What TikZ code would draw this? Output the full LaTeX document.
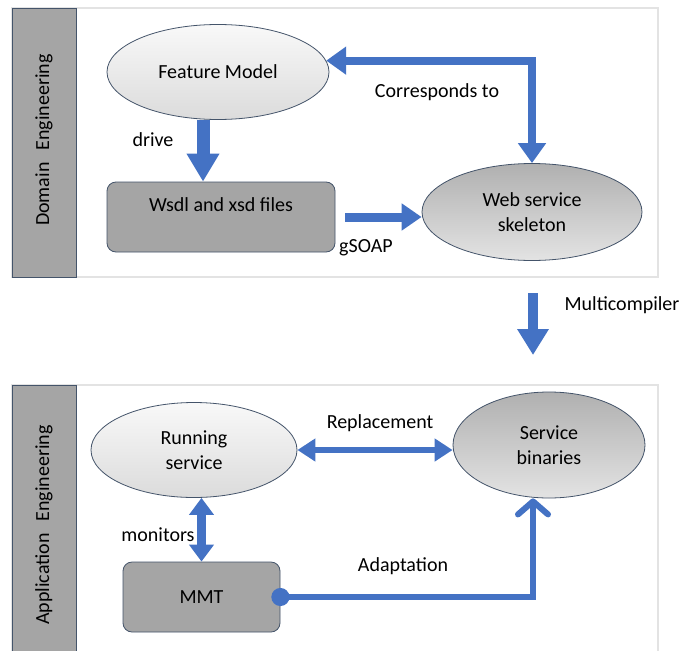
\documentclass[tikz,border=0pt]{standalone}
\usepackage{fontspec}
\setmainfont{Carlito}
\usetikzlibrary{arrows.meta,shapes.geometric}
\definecolor{blu}{HTML}{4472C4}
\definecolor{edge}{HTML}{44546A}
\definecolor{boxgray}{HTML}{A5A5A5}
\begin{document}
\begin{tikzpicture}[x=1pt,y=-1pt,font=\fontsize{20}{25}\selectfont,
  lightell/.style={ellipse,draw=edge,line width=0.8pt,top color=gray!5,bottom color=gray!28,align=center,inner sep=0pt},
  darkell/.style={ellipse,draw=edge,line width=0.8pt,top color=gray!62,bottom color=gray!22,align=center,inner sep=0pt},
  boxnode/.style={rectangle,rounded corners=9pt,draw=edge,line width=0.8pt,fill=boxgray},
  strip/.style={rectangle,draw=edge,line width=0.8pt,fill=boxgray,inner sep=0pt},
  frame/.style={draw=gray!22,line width=1.4pt,fill=white},
  lab/.style={inner sep=0pt},
  conn/.style={draw=blu,line join=miter}
]
\useasboundingbox (0,0) rectangle (684,650);
\clip (0,0) rectangle (684,650);
\fill[white] (0,0) rectangle (684,650);

% panels
\draw[frame] (12,8) rectangle (658,277);
\node[strip,minimum width=64pt,minimum height=269pt] (dstrip) at (44,142.5) {};
\node[lab,rotate=90] (dlabel) at (44,140) {Domain\hspace{12pt}Engineering};

\draw[frame] (12,385) rectangle (658,680);
\node[strip,minimum width=64pt,minimum height=280pt] (astrip) at (44,525) {};
\node[lab,rotate=90] (alabel) at (44,525) {Application\hspace{12pt}Engineering};

% domain nodes
\node[lightell,minimum width=222pt,minimum height=95pt] (fm) at (218,72) {Feature Model};
\node[boxnode,minimum width=228pt,minimum height=70pt] (wsdl) at (221,217) {};
\node[lab] (wsdltext) at (221,205) {Wsdl and xsd files};
\node[darkell,minimum width=220pt,minimum height=97pt] (skel) at (532,212) {Web service\\skeleton};

% application nodes
\node[lightell,minimum width=206pt,minimum height=95pt] (rs) at (194,450) {Running\\service};
\node[darkell,minimum width=192pt,minimum height=106pt] (sb) at (549,445) {Service\\binaries};
\node[boxnode,minimum width=157pt,minimum height=70pt] (mmt) at (201.5,597) {MMT};

% connectors
\coordinate (d1) at ([xshift=-18pt]wsdl.north);
\draw[conn,line width=13pt,-{Triangle[length=28pt,width=31pt]}] (d1 |- fm.south) -- (d1);
\node[lab] (drivel) at (153,140) {drive};

\draw[conn,line width=8pt,{Triangle[length=20pt,width=27pt]}-{Triangle[length=20pt,width=27pt]}] (skel.north) |- (fm.6);
\node[lab] (corrl) at (437,92) {Corresponds to};

\draw[conn,line width=9pt,-{Triangle[length=20pt,width=26pt]}] ([xshift=10pt]wsdl.east) -- (wsdl.east -| skel.west);
\node[lab] (gsoapl) at (366,248) {gSOAP};

\coordinate (mc1) at (533,293);
\coordinate (mc2) at (533,355);
\draw[conn,line width=10pt,-{Triangle[length=26pt,width=30pt]}] (mc1) -- (mc2);
\node[lab] (mcl) at (622,305) {Multicompiler};

\draw[conn,line width=6pt,{Triangle[length=18pt,width=22pt]}-{Triangle[length=18pt,width=22pt]}] (rs.east) -- (rs.east -| sb.west);
\node[lab] (repl) at (380,423) {Replacement};

\draw[conn,line width=9pt,{Triangle[length=17pt,width=24pt]}-{Triangle[length=17pt,width=24pt]}] (mmt.north |- rs.south) -- (mmt.north);
\node[lab] (monl) at (158,535) {monitors};

\coordinate (ad) at (533,594);
\draw[conn,line width=6pt,{Circle[length=18pt]}-{Straight Barb[round,length=13pt,width=30pt]}] ([xshift=-9pt]mmt.east) -- (mmt.east -| ad) -- (ad |- sb.south);
\node[lab] (adl) at (403,566) {Adaptation};
\end{tikzpicture}
\end{document}
